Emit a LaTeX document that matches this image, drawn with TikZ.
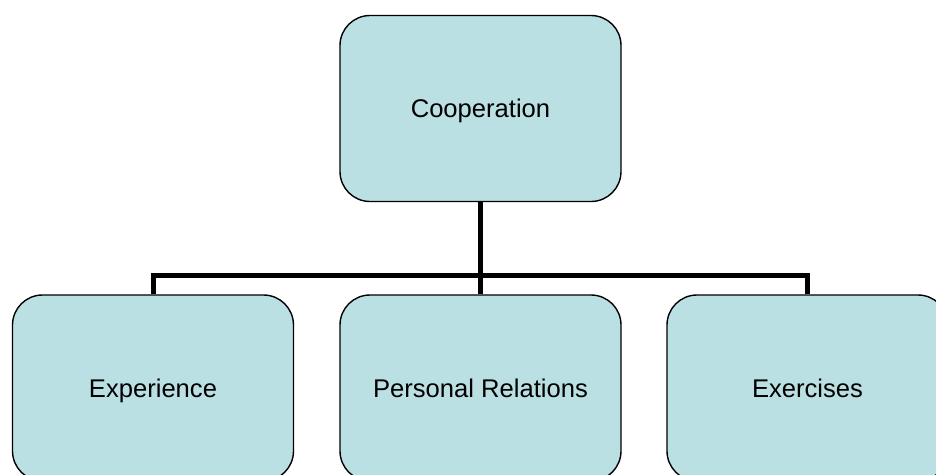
\documentclass[tikz,border=0pt]{standalone}
\usepackage{fontspec}
\setmainfont{Liberation Sans}
\definecolor{boxfill}{HTML}{BBE0E3}
\begin{document}
\begin{tikzpicture}[x=1pt,y=-1pt,
  box/.style={draw=black, line width=1.4pt, fill=boxfill, rounded corners=30pt,
    minimum width=281pt, minimum height=186pt, inner sep=0pt,
    text height=18.3pt, text depth=0pt,
    font=\fontsize{25.6}{30}\selectfont},
  link/.style={draw=black, line width=5pt, line join=miter}]
\useasboundingbox (0,0) rectangle (936,474);
\clip (0,0) rectangle (936,474);
\node[box] (top) at (480.5,108.5) {Cooperation};
\node[box] (left) at (153,388) {Experience};
\node[box] (mid) at (480.5,388) {Personal Relations};
\node[box] (right) at (807.5,388) {Exercises};
\coordinate (bus) at (480.5,275);
\draw[link] (left.north) -- (left.north |- bus) -- (right.north |- bus) -- (right.north);
\draw[link] (top.south) -- (mid.north);
\end{tikzpicture}
\end{document}
